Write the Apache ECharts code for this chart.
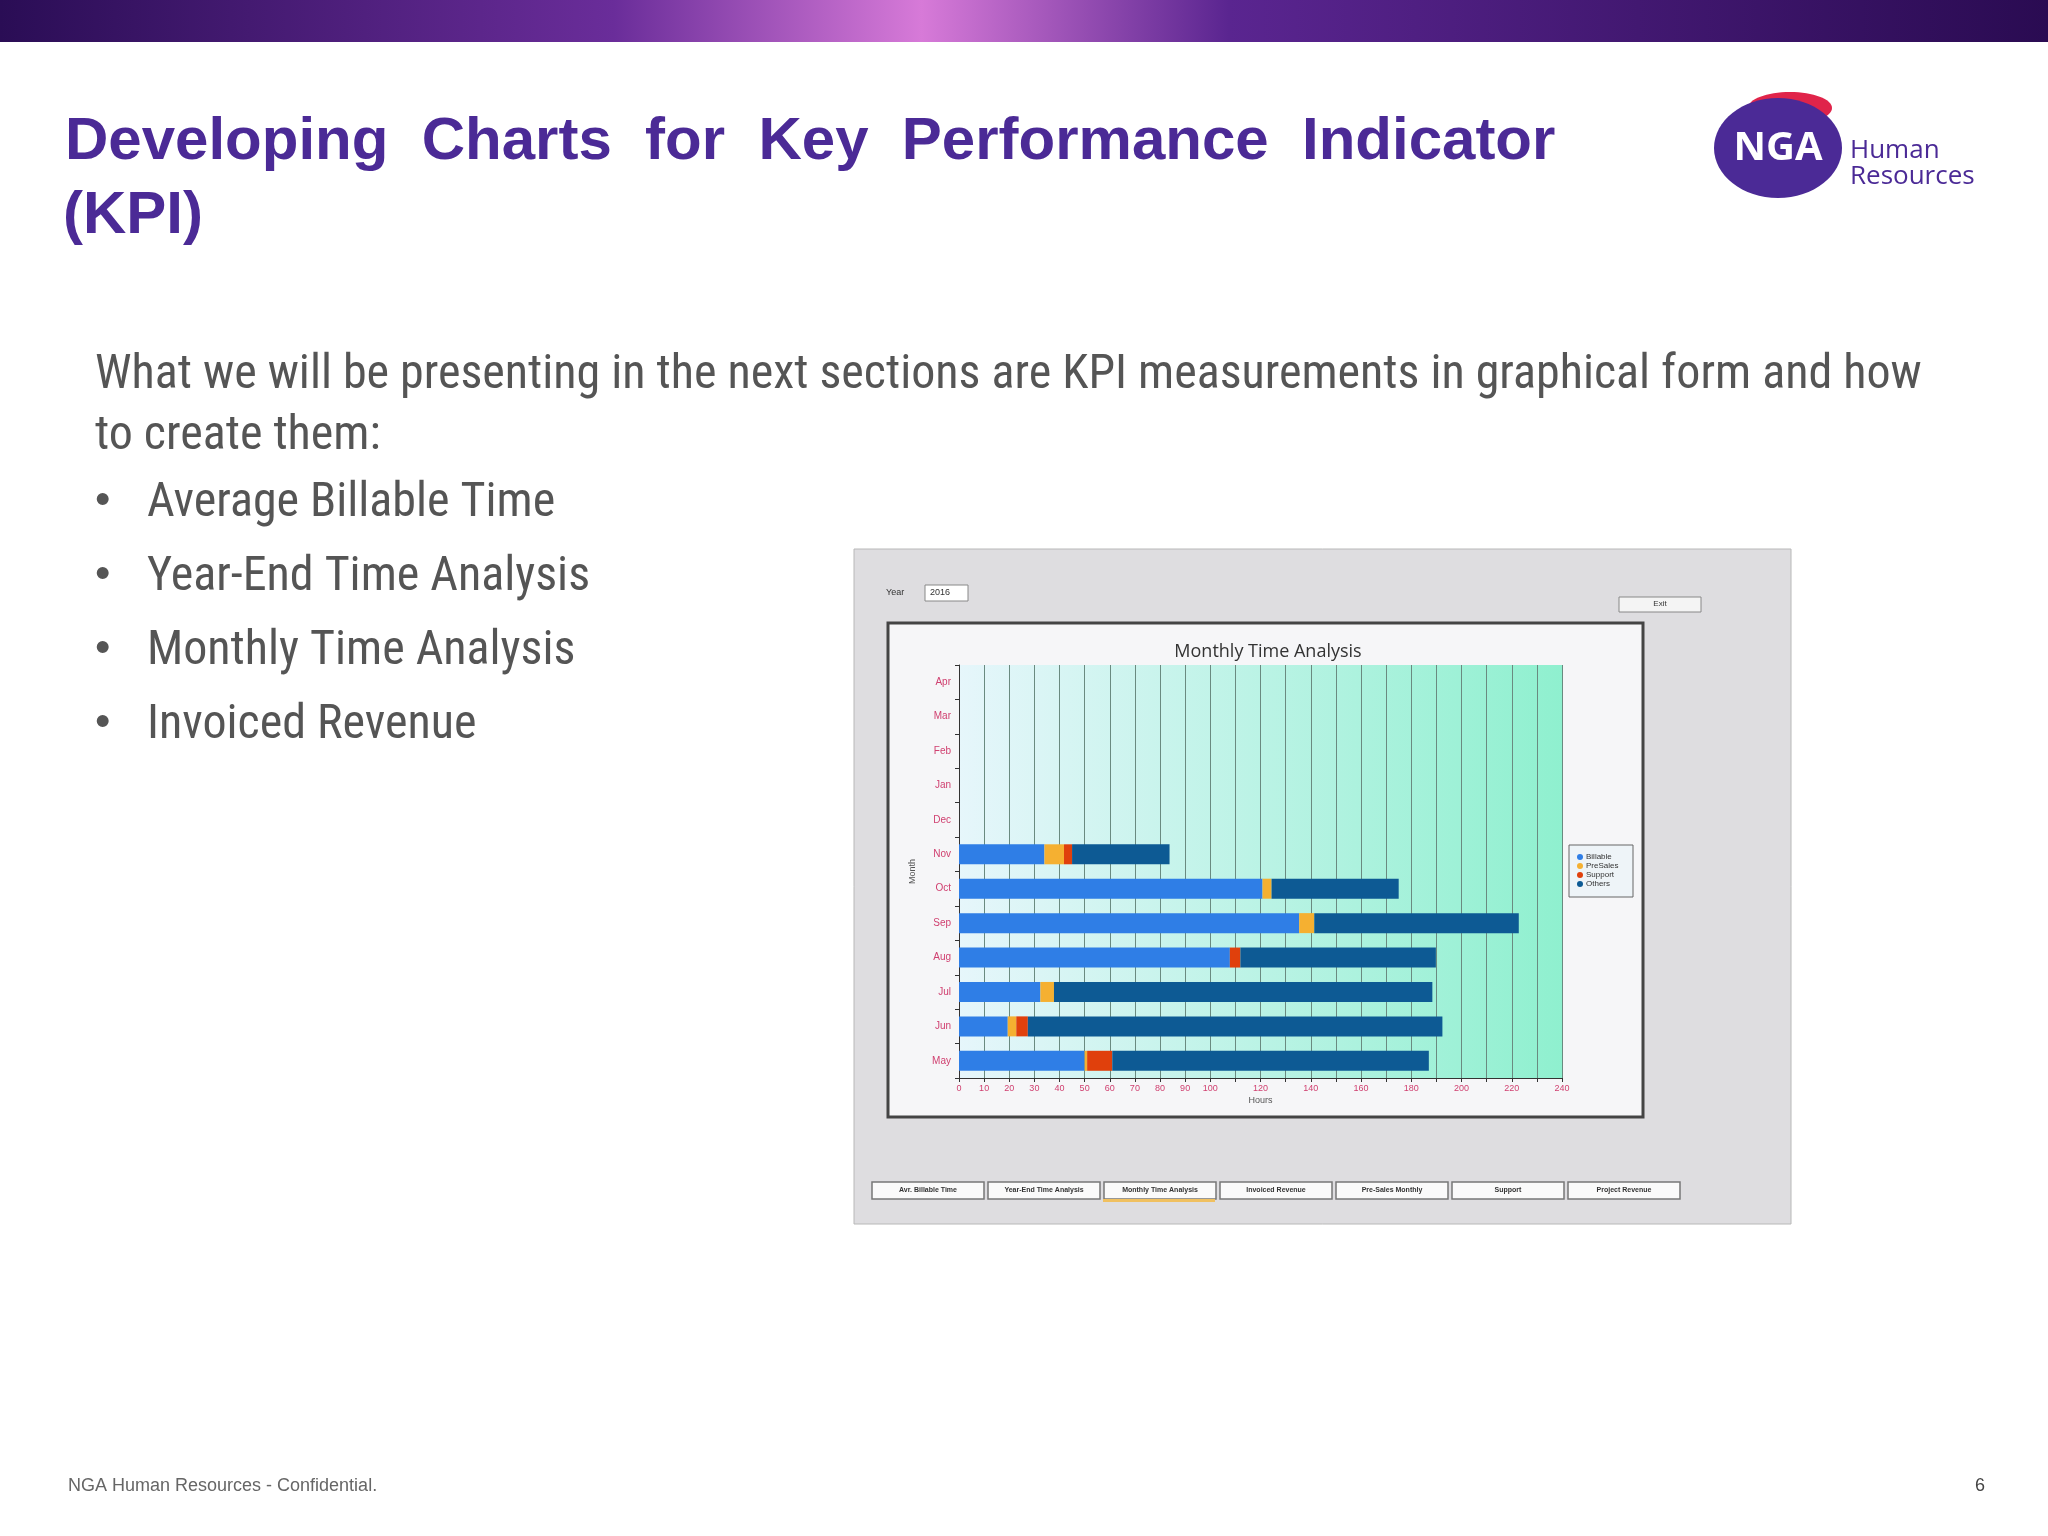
<!DOCTYPE html>
<html><head><meta charset="utf-8">
<script src="https://cdn.jsdelivr.net/npm/echarts@6/dist/echarts.min.js"></script>
<style>html,body{margin:0;padding:0;background:#fff}#c{width:2048px;height:1536px}</style>
</head><body><div id="c"></div>
<script>
const months = ['May','Jun','Jul','Aug','Sep','Oct','Nov','Dec','Jan','Feb','Mar','Apr'];
const billable = [50, 19.4, 32.4, 107.8, 135.4, 120.8, 34, null, null, null, null, null];
const presales = [1, 3.4, 5.4, 0, 6, 3.6, 7.8, null, null, null, null, null];
const support  = [10, 4.6, 0, 4.2, 0, 0, 3.2, null, null, null, null, null];
const others   = [126, 165, 150.6, 77.8, 81.4, 50.6, 38.8, null, null, null, null, null];
const xTicks = [0,10,20,30,40,50,60,70,80,90,100,120,140,160,180,200,220,240];
const bullets = ['Average Billable Time','Year-End Time Analysis','Monthly Time Analysis','Invoiced Revenue'];
const tabs = ['Avr. Billable Time','Year-End Time Analysis','Monthly Time Analysis','Invoiced Revenue','Pre-Sales Monthly','Support','Project Revenue'];

const chart = echarts.init(document.getElementById('c'));
const NARROW = '"Roboto Condensed", "Liberation Sans Narrow", "Arial Narrow", sans-serif';
const g = [];
g.push({type:'rect',shape:{x:0,y:0,width:2048,height:42},style:{fill:new echarts.graphic.LinearGradient(0,0,1,0,[{offset:0,color:'#2a0d55'},{offset:0.3,color:'#6a2d9a'},{offset:0.45,color:'#d77ad8'},{offset:0.6,color:'#5a2590'},{offset:1,color:'#2a0b52'}])}});
g.push({type:'text',x:65,y:112,style:{text:'Developing  Charts  for  Key  Performance  Indicator',font:'bold 60px "Liberation Sans", Arial, sans-serif',fill:'#4b2a96'}});
g.push({type:'text',x:63,y:186,style:{text:'(KPI)',font:'bold 60px "Liberation Sans", Arial, sans-serif',fill:'#4b2a96'}});
g.push({type:'ellipse',shape:{cx:1778,cy:148,rx:64,ry:50},style:{fill:'#4b2a96'}});
g.push({type:'ellipse',shape:{cx:1790,cy:108,rx:42,ry:16},style:{fill:'#e0244a'},z:-1});
g.push({type:'text',x:1778,y:149,style:{text:'NGA',font:'bold 40px "Open Sans", sans-serif',fill:'#fff',align:'center',verticalAlign:'middle'}});
g.push({type:'text',x:1850,y:138,style:{text:'Human\nResources',font:'26px "Open Sans", sans-serif',fill:'#4b2a96',lineHeight:26}});
g.push({type:'text',x:95,y:345,style:{text:'What we will be presenting in the next sections are KPI measurements in graphical form and how\nto create them:',font:'48px '+NARROW,fill:'#555',lineHeight:61}});
bullets.forEach((b,i)=>{
  g.push({type:'text',x:95,y:480+i*74,style:{text:'•',font:'44px "Liberation Sans", sans-serif',fill:'#555'}});
  g.push({type:'text',x:147,y:480+i*74,style:{text:b,font:'48px '+NARROW,fill:'#555'}});
});
g.push({type:'rect',shape:{x:854,y:549,width:937,height:675},style:{fill:'#dedde0',stroke:'#b8b8b8',lineWidth:1},z:-5});
g.push({type:'text',x:886,y:593,style:{text:'Year',font:'9px sans-serif',fill:'#333',verticalAlign:'middle'}});
g.push({type:'rect',shape:{x:925,y:585,width:43,height:16},style:{fill:'#fff',stroke:'#888'}});
g.push({type:'text',x:930,y:593,style:{text:'2016',font:'9px sans-serif',fill:'#333',verticalAlign:'middle'}});
g.push({type:'rect',shape:{x:1619,y:597,width:82,height:15},style:{fill:'#f4f4f4',stroke:'#888'}});
g.push({type:'text',x:1660,y:604,style:{text:'Exit',font:'8px sans-serif',fill:'#333',align:'center',verticalAlign:'middle'}});
g.push({type:'rect',shape:{x:888,y:623,width:755,height:494},style:{fill:'#f6f6f8',stroke:'#444',lineWidth:3},z:-4});
tabs.forEach((t,i)=>{
  g.push({type:'rect',shape:{x:872+i*116,y:1182,width:112,height:17},style:{fill:'#fafafa',stroke:'#777',lineWidth:1.5}});
  g.push({type:'text',x:928+i*116,y:1190,style:{text:t,font:'bold 7px sans-serif',fill:'#333',align:'center',verticalAlign:'middle'}});
});
g.push({type:'rect',shape:{x:1103,y:1199,width:112,height:3},style:{fill:'#f0c060'}});
g.push({type:'rect',shape:{x:1569,y:845,width:64,height:52},style:{fill:'#eef4f8',stroke:'#666'},z:1});
g.push({type:'text',x:68,y:1486,style:{text:'NGA Human Resources - Confidential.',font:'18px "Liberation Sans", sans-serif',fill:'#666',verticalAlign:'middle'}});
g.push({type:'text',x:1975,y:1486,style:{text:'6',font:'18px "Liberation Sans", sans-serif',fill:'#444',verticalAlign:'middle'}});

const mk = (name,data,color)=>({name,type:'bar',stack:'t',data,barWidth:20,itemStyle:{color},z:3});
chart.setOption({
  animation:false,
  graphic:g,
  title:{text:'Monthly Time Analysis',left:1263,top:638,textAlign:'center',textStyle:{fontSize:18,fontWeight:'normal',color:'#333',fontFamily:'"Open Sans", sans-serif'}},
  legend:{orient:'vertical',left:1572,top:848,itemWidth:6,itemHeight:6,itemGap:1,icon:'circle',z:5,
    textStyle:{fontSize:8,color:'#333',padding:[0,0,0,-2]},data:['Billable','PreSales','Support','Others']},
  grid:{left:959,top:665,width:603,height:413,show:true,borderWidth:0,
    backgroundColor:new echarts.graphic.LinearGradient(0,0,1,0,[{offset:0,color:'#e6f6fb'},{offset:1,color:'#8ff0cf'}])},
  xAxis:{type:'value',min:0,max:240,interval:10,name:'Hours',nameLocation:'middle',nameGap:18,
    nameTextStyle:{fontSize:9,color:'#555'},
    axisLine:{show:true,lineStyle:{color:'#333'}},axisTick:{show:true,length:4},
    splitLine:{lineStyle:{color:'#6a8a80',width:1}},
    axisLabel:{fontSize:9,color:'#d04070',margin:6,formatter:v=>xTicks.includes(v)?String(v):''}},
  yAxis:{type:'category',data:months,name:'Month',nameLocation:'middle',nameGap:42,nameRotate:90,
    nameTextStyle:{fontSize:9,color:'#555'},
    axisLine:{lineStyle:{color:'#333'}},axisTick:{show:true,length:4},
    axisLabel:{fontSize:10,color:'#d04070',margin:8}},
  series:[mk('Billable',billable,'#2f7ee6'),mk('PreSales',presales,'#f5b031'),mk('Support',support,'#e0400c'),mk('Others',others,'#0d5a94')]
});
</script></body></html>
